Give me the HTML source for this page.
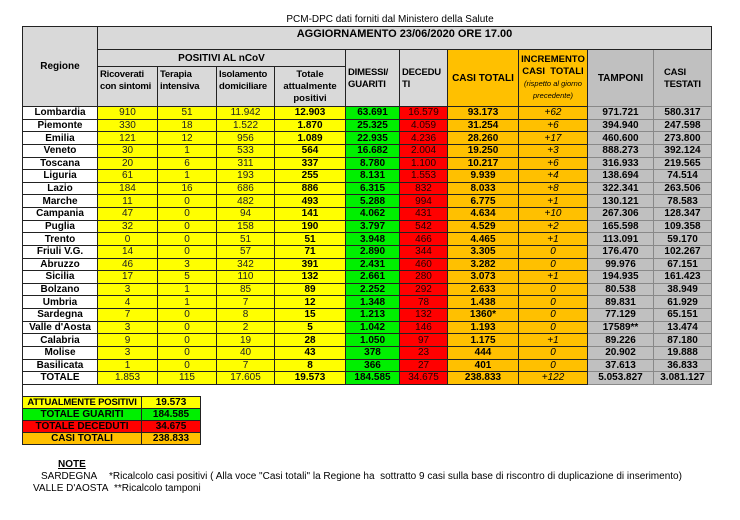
<!DOCTYPE html>
<html><head><meta charset="utf-8"><style>
body{margin:0;width:740px;height:520px;background:#fff;font-family:"Liberation Sans",Arial,sans-serif;position:relative;overflow:hidden}
.top{position:absolute;left:0;width:740px;top:14px;text-align:center;font-size:10px;color:#000;padding-left:40px;box-sizing:border-box}
table.m{position:absolute;left:22px;top:26px;border-collapse:collapse;table-layout:fixed;font-size:10px}
table.m td{border:1px solid #222;padding:0;text-align:center;overflow:hidden;white-space:nowrap;line-height:11px}
tr.d td{height:11.64px}
.h{background:#d9d9d9;font-weight:bold}
.hl{text-align:left!important;vertical-align:top;padding:2px 1px 0 2px!important;white-space:normal!important;line-height:12px!important;font-size:9.5px;letter-spacing:-0.2px}
.y{background:#ffff00;color:#222}
.yb{background:#ffff00;font-weight:bold}
.g{background:#00f000;font-weight:bold}
.r{background:#ff0000;color:#200}
.o{background:#ffc000;font-weight:bold}
.oi{background:#ffc000;font-style:italic}
.gr{background:#c0c0c0;font-weight:bold;border-color:#888!important}
.w{background:#fff;font-weight:bold}
table.s{position:absolute;left:22px;top:396px;border-collapse:collapse;font-size:10px;font-weight:bold;table-layout:fixed}
table.s td{border:1px solid #222;height:11px;padding:0;text-align:center;line-height:11px;white-space:nowrap;overflow:hidden}
.n{position:absolute;font-size:10px;color:#000}
</style></head><body>
<div class="top">PCM-DPC dati forniti dal Ministero della Salute</div>
<table class="m">
<colgroup><col style="width:75px"><col style="width:60px"><col style="width:59px"><col style="width:58px"><col style="width:71px"><col style="width:54px"><col style="width:48px"><col style="width:71px"><col style="width:69px"><col style="width:66px"><col style="width:58px"></colgroup>
<tr style="height:23px"><td class="h" rowspan="3">Regione</td><td class="h" colspan="10" style="font-size:11px;vertical-align:top;padding-top:2px">AGGIORNAMENTO 23/06/2020 ORE 17.00</td></tr>
<tr style="height:17px"><td class="h" colspan="4">POSITIVI AL nCoV</td>
<td class="h hl" rowspan="2" style="vertical-align:middle">DIMESSI/<br>GUARITI</td>
<td class="h hl" rowspan="2" style="vertical-align:middle">DECEDU<br>TI</td>
<td class="o" rowspan="2">CASI TOTALI</td>
<td class="o" rowspan="2" style="white-space:normal;line-height:12px;font-size:9.5px">INCREMENTO<br>CASI &nbsp;TOTALI<br><span style="font-weight:normal;font-style:italic;font-size:7.5px;line-height:10px">(rispetto al giorno precedente)</span></td>
<td class="gr" rowspan="2">TAMPONI</td>
<td class="gr hl" rowspan="2" style="vertical-align:middle;padding-left:10px!important">CASI<br>TESTATI</td></tr>
<tr style="height:40px"><td class="h hl">Ricoverati con sintomi</td><td class="h hl">Terapia intensiva</td><td class="h hl">Isolamento domiciliare</td><td class="h" style="vertical-align:top;padding-top:2px;white-space:normal;line-height:12px;font-size:9.5px">Totale attualmente positivi</td></tr>
<tr class="d"><td class="w">Lombardia</td><td class="y">910</td><td class="y">51</td><td class="y">11.942</td><td class="yb">12.903</td><td class="g">63.691</td><td class="r">16.579</td><td class="o">93.173</td><td class="oi">+62</td><td class="gr">971.721</td><td class="gr">580.317</td></tr>
<tr class="d"><td class="w">Piemonte</td><td class="y">330</td><td class="y">18</td><td class="y">1.522</td><td class="yb">1.870</td><td class="g">25.325</td><td class="r">4.059</td><td class="o">31.254</td><td class="oi">+6</td><td class="gr">394.940</td><td class="gr">247.598</td></tr>
<tr class="d"><td class="w">Emilia</td><td class="y">121</td><td class="y">12</td><td class="y">956</td><td class="yb">1.089</td><td class="g">22.935</td><td class="r">4.236</td><td class="o">28.260</td><td class="oi">+17</td><td class="gr">460.600</td><td class="gr">273.800</td></tr>
<tr class="d"><td class="w">Veneto</td><td class="y">30</td><td class="y">1</td><td class="y">533</td><td class="yb">564</td><td class="g">16.682</td><td class="r">2.004</td><td class="o">19.250</td><td class="oi">+3</td><td class="gr">888.273</td><td class="gr">392.124</td></tr>
<tr class="d"><td class="w">Toscana</td><td class="y">20</td><td class="y">6</td><td class="y">311</td><td class="yb">337</td><td class="g">8.780</td><td class="r">1.100</td><td class="o">10.217</td><td class="oi">+6</td><td class="gr">316.933</td><td class="gr">219.565</td></tr>
<tr class="d"><td class="w">Liguria</td><td class="y">61</td><td class="y">1</td><td class="y">193</td><td class="yb">255</td><td class="g">8.131</td><td class="r">1.553</td><td class="o">9.939</td><td class="oi">+4</td><td class="gr">138.694</td><td class="gr">74.514</td></tr>
<tr class="d"><td class="w">Lazio</td><td class="y">184</td><td class="y">16</td><td class="y">686</td><td class="yb">886</td><td class="g">6.315</td><td class="r">832</td><td class="o">8.033</td><td class="oi">+8</td><td class="gr">322.341</td><td class="gr">263.506</td></tr>
<tr class="d"><td class="w">Marche</td><td class="y">11</td><td class="y">0</td><td class="y">482</td><td class="yb">493</td><td class="g">5.288</td><td class="r">994</td><td class="o">6.775</td><td class="oi">+1</td><td class="gr">130.121</td><td class="gr">78.583</td></tr>
<tr class="d"><td class="w">Campania</td><td class="y">47</td><td class="y">0</td><td class="y">94</td><td class="yb">141</td><td class="g">4.062</td><td class="r">431</td><td class="o">4.634</td><td class="oi">+10</td><td class="gr">267.306</td><td class="gr">128.347</td></tr>
<tr class="d"><td class="w">Puglia</td><td class="y">32</td><td class="y">0</td><td class="y">158</td><td class="yb">190</td><td class="g">3.797</td><td class="r">542</td><td class="o">4.529</td><td class="oi">+2</td><td class="gr">165.598</td><td class="gr">109.358</td></tr>
<tr class="d"><td class="w">Trento</td><td class="y">0</td><td class="y">0</td><td class="y">51</td><td class="yb">51</td><td class="g">3.948</td><td class="r">466</td><td class="o">4.465</td><td class="oi">+1</td><td class="gr">113.091</td><td class="gr">59.170</td></tr>
<tr class="d"><td class="w">Friuli V.G.</td><td class="y">14</td><td class="y">0</td><td class="y">57</td><td class="yb">71</td><td class="g">2.890</td><td class="r">344</td><td class="o">3.305</td><td class="oi">0</td><td class="gr">176.470</td><td class="gr">102.267</td></tr>
<tr class="d"><td class="w">Abruzzo</td><td class="y">46</td><td class="y">3</td><td class="y">342</td><td class="yb">391</td><td class="g">2.431</td><td class="r">460</td><td class="o">3.282</td><td class="oi">0</td><td class="gr">99.976</td><td class="gr">67.151</td></tr>
<tr class="d"><td class="w">Sicilia</td><td class="y">17</td><td class="y">5</td><td class="y">110</td><td class="yb">132</td><td class="g">2.661</td><td class="r">280</td><td class="o">3.073</td><td class="oi">+1</td><td class="gr">194.935</td><td class="gr">161.423</td></tr>
<tr class="d"><td class="w">Bolzano</td><td class="y">3</td><td class="y">1</td><td class="y">85</td><td class="yb">89</td><td class="g">2.252</td><td class="r">292</td><td class="o">2.633</td><td class="oi">0</td><td class="gr">80.538</td><td class="gr">38.949</td></tr>
<tr class="d"><td class="w">Umbria</td><td class="y">4</td><td class="y">1</td><td class="y">7</td><td class="yb">12</td><td class="g">1.348</td><td class="r">78</td><td class="o">1.438</td><td class="oi">0</td><td class="gr">89.831</td><td class="gr">61.929</td></tr>
<tr class="d"><td class="w">Sardegna</td><td class="y">7</td><td class="y">0</td><td class="y">8</td><td class="yb">15</td><td class="g">1.213</td><td class="r">132</td><td class="o">1360*</td><td class="oi">0</td><td class="gr">77.129</td><td class="gr">65.151</td></tr>
<tr class="d"><td class="w">Valle d'Aosta</td><td class="y">3</td><td class="y">0</td><td class="y">2</td><td class="yb">5</td><td class="g">1.042</td><td class="r">146</td><td class="o">1.193</td><td class="oi">0</td><td class="gr">17589**</td><td class="gr">13.474</td></tr>
<tr class="d"><td class="w">Calabria</td><td class="y">9</td><td class="y">0</td><td class="y">19</td><td class="yb">28</td><td class="g">1.050</td><td class="r">97</td><td class="o">1.175</td><td class="oi">+1</td><td class="gr">89.226</td><td class="gr">87.180</td></tr>
<tr class="d"><td class="w">Molise</td><td class="y">3</td><td class="y">0</td><td class="y">40</td><td class="yb">43</td><td class="g">378</td><td class="r">23</td><td class="o">444</td><td class="oi">0</td><td class="gr">20.902</td><td class="gr">19.888</td></tr>
<tr class="d"><td class="w">Basilicata</td><td class="y">1</td><td class="y">0</td><td class="y">7</td><td class="yb">8</td><td class="g">366</td><td class="r">27</td><td class="o">401</td><td class="oi">0</td><td class="gr">37.613</td><td class="gr">36.833</td></tr>
<tr class="d"><td class="w">TOTALE</td><td class="y">1.853</td><td class="y">115</td><td class="y">17.605</td><td class="yb">19.573</td><td class="g">184.585</td><td class="r">34.675</td><td class="o">238.833</td><td class="oi">+122</td><td class="gr">5.053.827</td><td class="gr">3.081.127</td></tr>
</table>
<div style="position:absolute;left:22px;top:385px;width:1px;height:11px;background:#222"></div>
<table class="s">
<colgroup><col style="width:119px"><col style="width:59px"></colgroup>
<tr><td style="background:#ffff00;font-size:9.5px;letter-spacing:-0.2px">ATTUALMENTE POSITIVI</td><td style="background:#ffff00">19.573</td></tr>
<tr><td style="background:#00f000">TOTALE GUARITI</td><td style="background:#00f000">184.585</td></tr>
<tr><td style="background:#ff0000">TOTALE DECEDUTI</td><td style="background:#ff0000">34.675</td></tr>
<tr><td style="background:#ffc000">CASI TOTALI</td><td style="background:#ffc000">238.833</td></tr>
</table>
<div class="n" style="left:58px;top:459px;font-weight:bold;text-decoration:underline">NOTE</div>
<div class="n" style="left:41px;top:471px">SARDEGNA</div>
<div class="n" style="left:109px;top:471px">*Ricalcolo casi positivi ( Alla voce "Casi totali" la Regione ha&nbsp; sottratto 9 casi sulla base di riscontro di duplicazione di inserimento)</div>
<div class="n" style="left:33px;top:483px">VALLE D'AOSTA&nbsp; **Ricalcolo tamponi</div>
</body></html>
